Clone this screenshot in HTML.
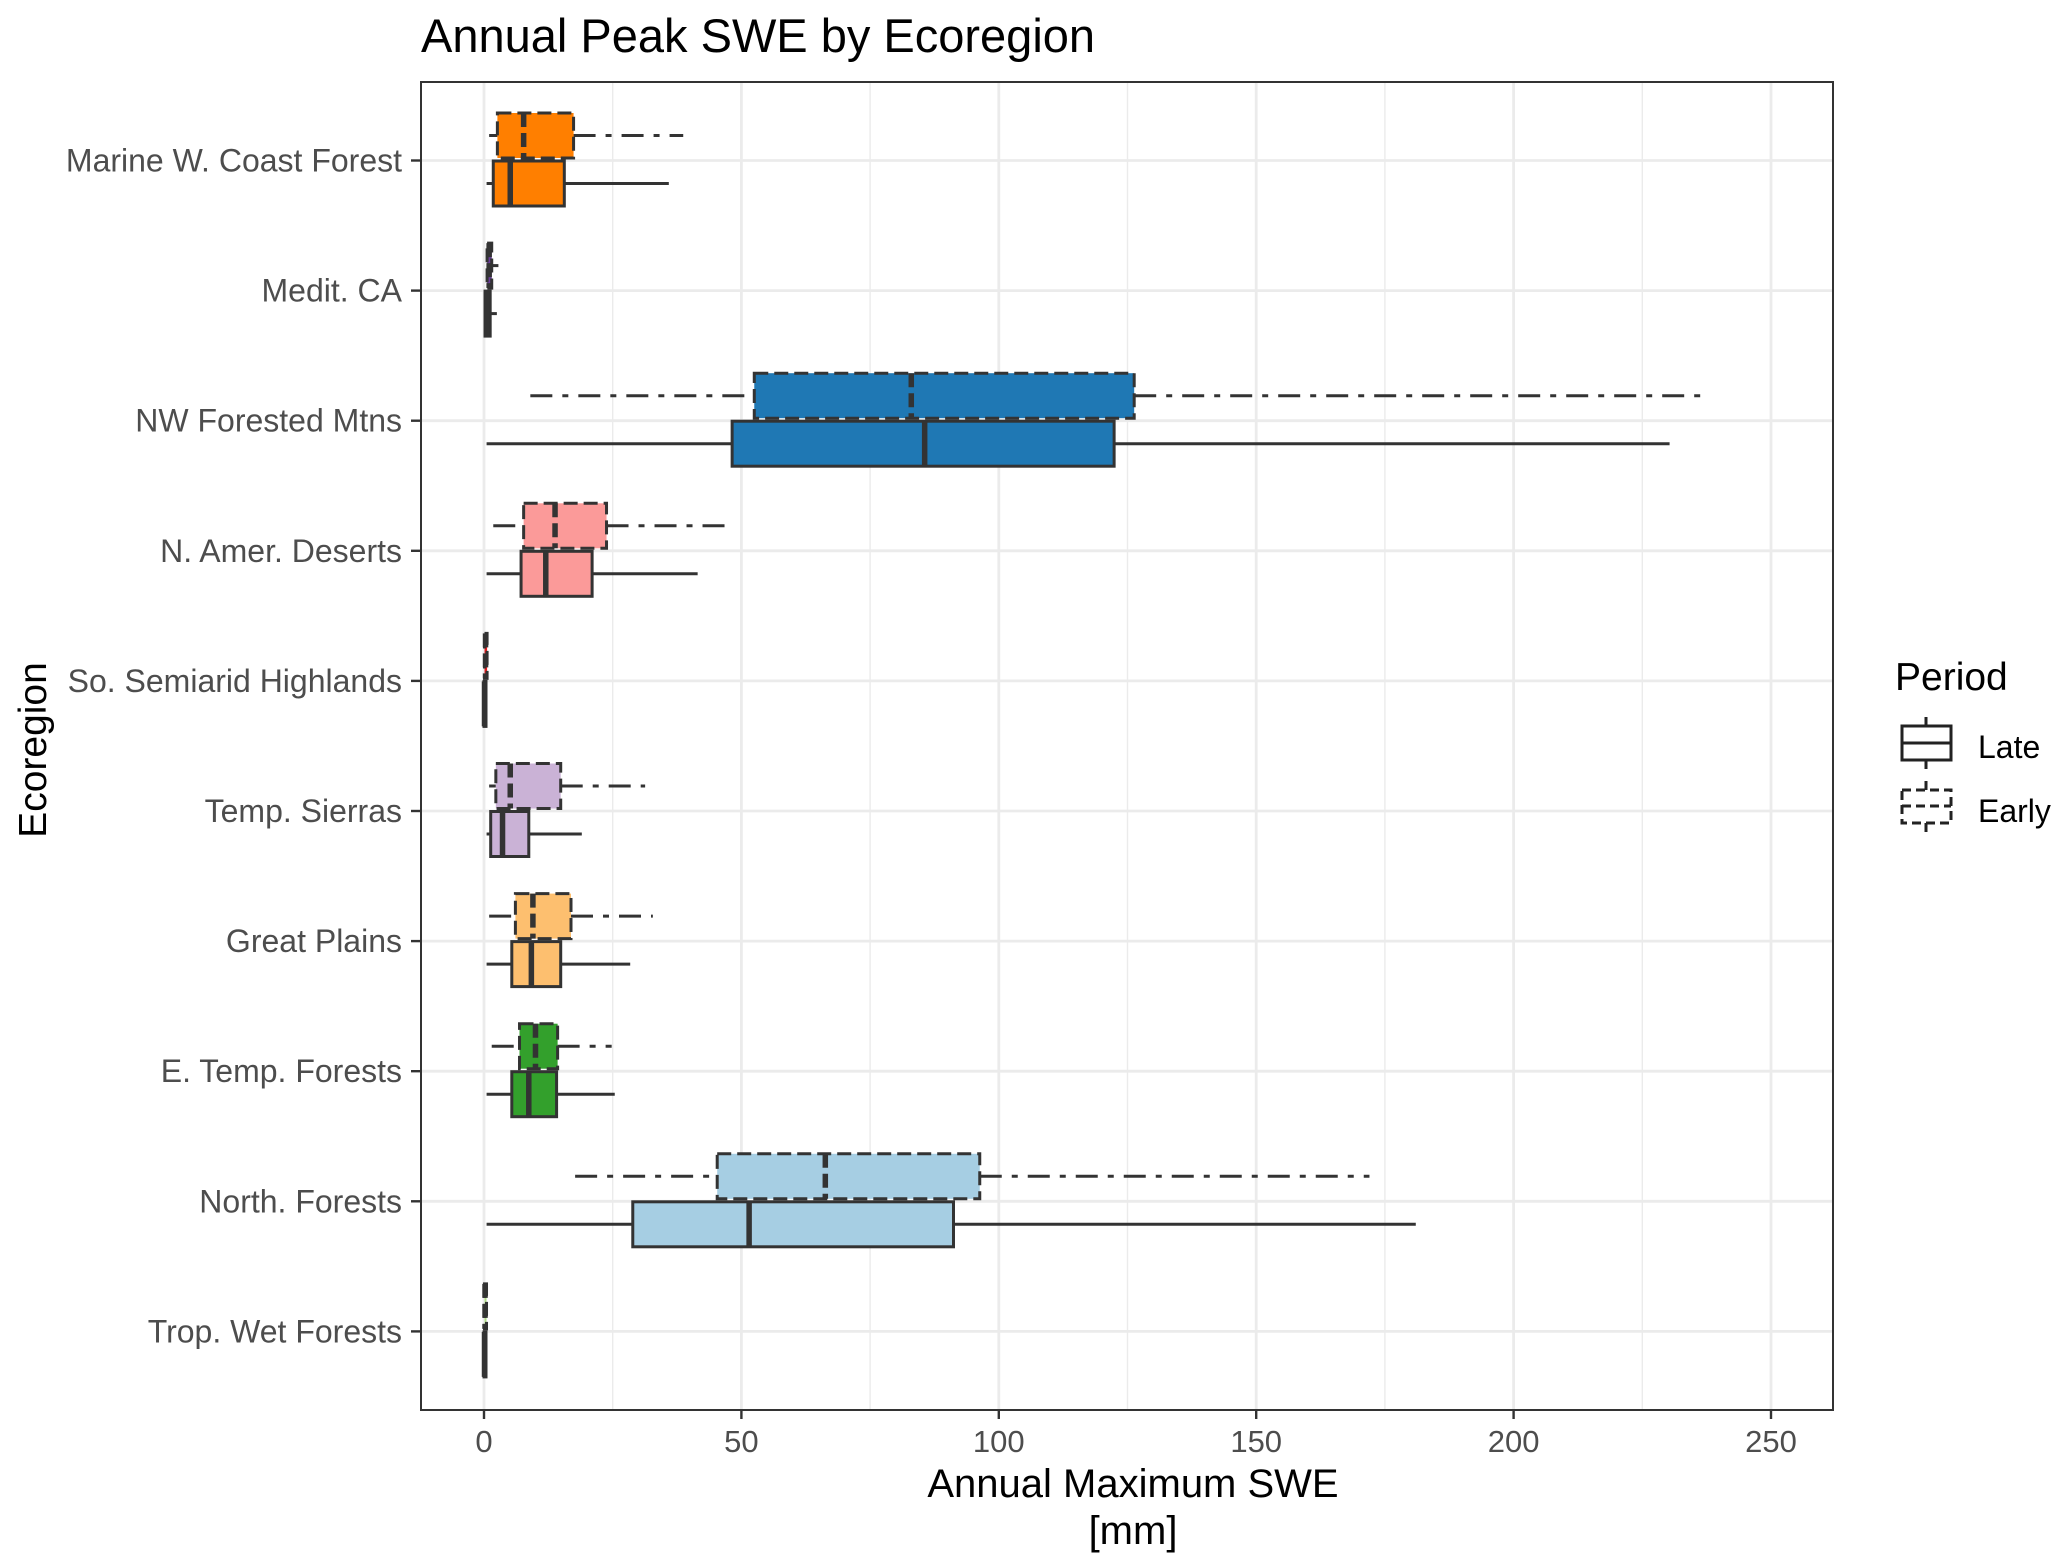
<!DOCTYPE html>
<html><head><meta charset="utf-8"><style>
html,body{margin:0;padding:0;background:#fff;}
svg{display:block;font-family:"Liberation Sans",Arial,sans-serif;}
</style></head><body>
<svg id="chart" width="2067" height="1565" viewBox="0 0 2067 1565" xmlns="http://www.w3.org/2000/svg">
<rect x="0" y="0" width="2067" height="1565" fill="#fff"/>
<text x="421" y="52" font-size="47" fill="#000">Annual Peak SWE by Ecoregion</text>
<g id="grid"></g>
<g id="boxes"></g>
<rect x="421" y="82" width="1412" height="1328" fill="none" stroke="#333" stroke-width="2"/>
<g id="axes"></g>
<text x="1133" y="1497" font-size="40" text-anchor="middle" fill="#000">Annual Maximum SWE</text>
<text x="1133" y="1544" font-size="40" text-anchor="middle" fill="#000">[mm]</text>
<text transform="translate(46,750) rotate(-90)" font-size="39" text-anchor="middle" fill="#000">Ecoregion</text>
<g transform="translate(-9,0)">
<text x="1904" y="690" font-size="39" fill="#000">Period</text>
<g>
<line x1="1935" y1="717" x2="1935" y2="769" stroke="#222" stroke-width="3"/>
<rect x="1911" y="726" width="49" height="34" fill="#fff" stroke="#222" stroke-width="3"/>
<line x1="1911" y1="743" x2="1960" y2="743" stroke="#222" stroke-width="3"/>
<text x="1987" y="758" font-size="32" fill="#000">Late</text>
</g>
<g>
<line x1="1935" y1="781" x2="1935" y2="832" stroke="#222" stroke-width="3" stroke-dasharray="9,5"/>
<rect x="1911" y="790" width="49" height="33" fill="#fff" stroke="#222" stroke-width="3" stroke-dasharray="9,5"/>
<line x1="1911" y1="806" x2="1960" y2="806" stroke="#222" stroke-width="3" stroke-dasharray="9,5"/>
<text x="1987" y="822" font-size="32" fill="#000">Early</text>
</g>
</g>
</svg>
<script>
const categories = ["Marine W. Coast Forest","Medit. CA","NW Forested Mtns","N. Amer. Deserts","So. Semiarid Highlands","Temp. Sierras","Great Plains","E. Temp. Forests","North. Forests","Trop. Wet Forests"];
const colors = ["#ff7f00","#6a3d9a","#1f78b4","#fb9a99","#e31a1c","#cab2d6","#fdbf6f","#33a02c","#a6cee3","#b2df8a"];
// [lowWhisker, q1, median, q3, highWhisker]
const earlyStats = [
 [1,2.6,7.7,17.4,38.7],[0.5,0.6,1,1.5,2.8],[9,52.5,83,126.3,236.4],[1.8,7.7,13.8,23.8,46.9],[0,0.1,0.3,0.6,0.8],
 [1,2.3,5.1,14.9,31.3],[1,6.1,9.5,16.9,32.8],[1.5,6.9,10,14.3,24.8],[17.7,45.3,66.3,96.3,172],[0,0.1,0.2,0.4,0.5]];
const lateStats = [
 [0.5,1.8,5.1,15.6,35.9],[0,0.2,0.6,1.2,2.5],[0.5,48.2,85.6,122.4,230.3],[0.5,7.2,12,21,41.5],[0,0,0.1,0.2,0.3],
 [0.5,1.3,3.6,8.7,19],[0.5,5.4,9.2,14.9,28.4],[0.5,5.4,8.7,14.1,25.4],[0.5,28.9,51.5,91.2,181],[0,0,0.1,0.2,0.3]];
const xTicks = [0,50,100,150,200,250];
const xMinor = [25,75,125,175,225];

const NS="http://www.w3.org/2000/svg";
const X0=421,X1=1833,Y0=82,Y1=1410;
const xs = v => 484 + v*5.148;
const ys = i => 160.5 + i*130.1;
function mk(tag, attrs, parent){const e=document.createElementNS(NS,tag);for(const k in attrs)e.setAttribute(k,attrs[k]);parent.appendChild(e);return e;}
const grid=document.getElementById('grid'), boxes=document.getElementById('boxes'), axes=document.getElementById('axes');
xMinor.forEach(v=>{const l=mk('line',{x1:xs(v),x2:xs(v),y1:Y0,y2:Y1,stroke:'#ebebeb','stroke-width':1.4},grid);

});
xTicks.forEach(v=>{const l=mk('line',{x1:xs(v),x2:xs(v),y1:Y0,y2:Y1,stroke:'#ebebeb','stroke-width':2.8},grid);


const t=mk('line',{x1:xs(v),x2:xs(v),y1:Y1,y2:Y1+9,stroke:'#333','stroke-width':2.4},axes);


const tx=mk('text',{x:xs(v),y:Y1+42,'font-size':31,'text-anchor':'middle',fill:'#4d4d4d'},axes);tx.textContent=v;

});
categories.forEach((c,i)=>{const y=ys(i);
const l=mk('line',{x1:X0,x2:X1,y1:y,y2:y,stroke:'#ebebeb','stroke-width':2.8},grid);


const t=mk('line',{x1:X0-10,x2:X0,y1:y,y2:y,stroke:'#333','stroke-width':2.4},axes);


const tx=mk('text',{x:X0-19,y:y+11,'font-size':32,'text-anchor':'end',fill:'#4d4d4d'},axes);tx.textContent=c;

});
function drawBox(s,cy,color,dashed,name){
 const g=mk('g',{},boxes);
 
 
 const h=45, w=3;
 const wd = dashed?{'stroke-dasharray':'22,10,6,10'}:{};
 const bd = dashed?{'stroke-dasharray':'14,6'}:{};
 mk('line',Object.assign({x1:xs(s[0]),x2:xs(s[1]),y1:cy,y2:cy,stroke:'#333','stroke-width':w},wd),g);
 mk('line',Object.assign({x1:xs(s[3]),x2:xs(s[4]),y1:cy,y2:cy,stroke:'#333','stroke-width':w},wd),g);
 mk('rect',Object.assign({x:xs(s[1]),y:cy-h/2,width:Math.max(xs(s[3])-xs(s[1]),2),height:h,fill:color,stroke:'#333','stroke-width':w},bd),g);
 mk('line',Object.assign({x1:xs(s[2]),x2:xs(s[2]),y1:cy-h/2,y2:cy+h/2,stroke:'#333','stroke-width':5.5},bd),g);
}
categories.forEach((c,i)=>{
 drawBox(earlyStats[i],ys(i)-25,colors[i],true,'box-early-'+i);
 drawBox(lateStats[i],ys(i)+23,colors[i],false,'box-late-'+i);
});
</script>
</body></html>
